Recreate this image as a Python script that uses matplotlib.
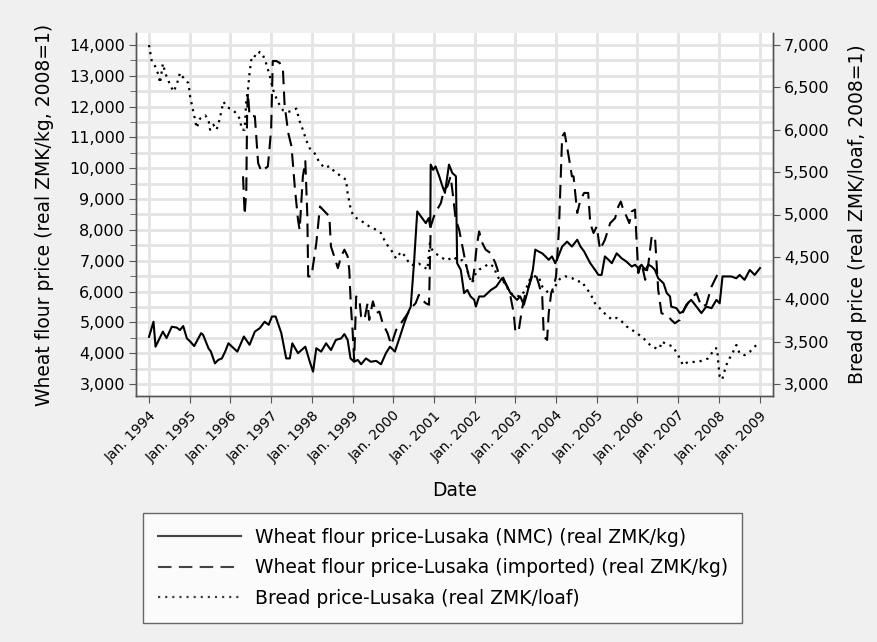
import numpy as np
import matplotlib.pyplot as plt
from matplotlib.ticker import MultipleLocator, FuncFormatter

plt.rcParams['font.family'] = ['DejaVu Sans']

# Wheat flour price-Lusaka (NMC), real ZMK/kg
nmc_year = [1994.00, 1994.11, 1994.16, 1994.34, 1994.43, 1994.56, 1994.68, 1994.76, 1994.84, 1994.93,
            1995.01, 1995.11, 1995.28, 1995.33, 1995.46, 1995.52, 1995.62, 1995.70, 1995.79, 1995.87,
            1995.95, 1996.17, 1996.33, 1996.47, 1996.60, 1996.72, 1996.84, 1996.94, 1997.02, 1997.11,
            1997.25, 1997.37, 1997.46, 1997.52, 1997.66, 1997.84, 1997.95, 1998.03, 1998.11, 1998.23,
            1998.35, 1998.47, 1998.59, 1998.72, 1998.80, 1998.88, 1998.95, 1999.04, 1999.13, 1999.21,
            1999.33, 1999.45, 1999.58, 1999.70, 1999.82, 1999.92, 2000.04, 2000.15, 2000.27, 2000.36,
            2000.43, 2000.51, 2000.59, 2000.71, 2000.80, 2000.87, 2000.91, 2000.92, 2000.98, 2001.04,
            2001.13, 2001.21, 2001.27, 2001.33, 2001.37, 2001.45, 2001.54, 2001.57, 2001.66, 2001.74,
            2001.82, 2001.90, 2001.99, 2002.03, 2002.11, 2002.23, 2002.40, 2002.53, 2002.67, 2002.80,
            2002.88, 2002.96, 2003.04, 2003.12, 2003.21, 2003.29, 2003.37, 2003.43, 2003.49, 2003.57,
            2003.66, 2003.74, 2003.82, 2003.90, 2003.98, 2004.07, 2004.15, 2004.27, 2004.39, 2004.52,
            2004.60, 2004.69, 2004.84, 2004.96, 2005.04, 2005.12, 2005.20, 2005.29, 2005.37, 2005.49,
            2005.61, 2005.73, 2005.86, 2005.94, 2006.02, 2006.10, 2006.19, 2006.27, 2006.35, 2006.43,
            2006.51, 2006.64, 2006.72, 2006.80, 2006.83, 2006.96, 2007.04, 2007.12, 2007.20, 2007.32,
            2007.45, 2007.57, 2007.69, 2007.82, 2007.94, 2008.02, 2008.09, 2008.18, 2008.30, 2008.43,
            2008.51, 2008.63, 2008.76, 2008.88, 2009.01]
nmc_price = [4530, 5020, 4210, 4700, 4490, 4860, 4830, 4750, 4880, 4480,
             4380, 4230, 4650, 4590, 4160, 4050, 3670, 3780, 3830, 4050,
             4320, 4050, 4540, 4270, 4700, 4810, 5020, 4920, 5190, 5190,
             4650, 3830, 3830, 4320, 4000, 4210, 3720, 3400, 4160, 4050,
             4320, 4100, 4430, 4480, 4620, 4430, 3830, 3720, 3780, 3640,
             3830, 3720, 3750, 3640, 4000, 4210, 4050, 4480, 4970, 5300,
             5510, 6920, 8600, 8380, 8220, 8380, 8100, 10120, 9950, 10060,
             9740, 9410, 9200, 9740, 10120, 9850, 9740, 6920, 6700, 5950,
             6050, 5840, 5730, 5510, 5840, 5840, 6050, 6160, 6430, 6160,
             5950, 5840, 5730, 5840, 5570, 5950, 6380, 6700, 7360, 7300,
             7240, 7140, 7030, 7140, 6920, 7190, 7460, 7620, 7460, 7680,
             7460, 7300, 6920, 6700, 6540, 6540, 7140, 7030, 6920, 7240,
             7080, 6970, 6810, 6870, 6760, 6870, 6700, 6870, 6810, 6700,
             6430, 6270, 5950, 5840, 5510, 5460, 5300, 5350, 5570, 5730,
             5510, 5300, 5510, 5460, 5730, 5620, 6490, 6490, 6490, 6430,
             6540, 6380, 6700, 6540, 6760]

# Wheat flour price-Lusaka (imported), real ZMK/kg
imp_year = [1996.31, 1996.35, 1996.39, 1996.41, 1996.43, 1996.47, 1996.60, 1996.68, 1996.76, 1996.92,
            1997.00, 1997.04, 1997.13, 1997.21, 1997.29, 1997.33, 1997.42, 1997.50, 1997.58, 1997.66,
            1997.70, 1997.78, 1997.84, 1997.89, 1997.91, 1997.99, 1998.11, 1998.20, 1998.27, 1998.43,
            1998.47, 1998.55, 1998.64, 1998.72, 1998.80, 1998.88, 1998.92, 1998.96, 1999.00, 1999.04,
            1999.09, 1999.17, 1999.21, 1999.29, 1999.37, 1999.41, 1999.50, 1999.58, 1999.66, 1999.74,
            1999.86, 1999.95, 2000.07, 2000.19, 2000.36, 2000.47, 2000.55, 2000.63, 2000.71, 2000.80,
            2000.88, 2000.92, 2001.00, 2001.08, 2001.17, 2001.25, 2001.33, 2001.41, 2001.49, 2001.53,
            2001.62, 2001.70, 2001.78, 2001.86, 2001.94, 2001.99, 2002.05, 2002.11, 2002.19, 2002.27,
            2002.40, 2002.51, 2002.59, 2002.67, 2002.80, 2002.88, 2002.96, 2003.00, 2003.08, 2003.16,
            2003.25, 2003.33, 2003.41, 2003.49, 2003.57, 2003.66, 2003.70, 2003.78, 2003.82, 2003.88,
            2003.94, 2004.00, 2004.07, 2004.15, 2004.21, 2004.31, 2004.39, 2004.43, 2004.52, 2004.60,
            2004.69, 2004.79, 2004.84, 2004.92, 2005.00, 2005.08, 2005.20, 2005.33, 2005.45, 2005.53,
            2005.59, 2005.65, 2005.73, 2005.80, 2005.86, 2005.94, 2006.02, 2006.10, 2006.19, 2006.27,
            2006.35, 2006.43, 2006.51, 2006.59, 2006.68, 2006.76, 2006.83, 2006.92, 2007.04, 2007.12,
            2007.24, 2007.37, 2007.45, 2007.57, 2007.69, 2007.82, 2007.96]
imp_price = [9740, 8490, 9310, 11800, 12450, 11690, 11690, 10170, 9900, 10060,
             11250, 13480, 13480, 13420, 13200, 12070, 11150, 10710, 9410, 8330,
             8000, 9740, 10230, 8440, 6490, 6490, 7570, 8760, 8660, 8440,
             7460, 7140, 6760, 7140, 7360, 7140, 6700, 5510, 4750, 3780,
             5840, 5730, 5190, 5080, 5620, 5080, 5680, 5300, 5350, 4970,
             4650, 4270, 4750, 4970, 5300, 5510, 5620, 5890, 5730, 5620,
             5570, 8110, 8440, 8660, 8870, 9310, 9410, 9740, 8870, 8380,
             8000, 7460, 6920, 6490, 6270, 6700, 7460, 7950, 7570, 7360,
             7240, 6920, 6600, 6540, 6160, 5840, 5300, 4700, 4700, 5410,
             5950, 6160, 6490, 6600, 6270, 5840, 4540, 4430, 5300, 5950,
             6160, 6490, 8000, 11040, 11150, 10390, 9740, 9740, 8550, 8980,
             9200, 9200, 8220, 7900, 8110, 7360, 7680, 8220, 8380, 8760,
             8920, 8660, 8440, 8220, 8600, 8660, 6600, 6920, 6380, 6920,
             7790, 7790, 6050, 5300, 5240, 5190, 5080, 4970, 5080, 5350,
             5620, 5840, 5950, 5510, 5570, 6160, 6540]

# Bread price-Lusaka, real ZMK/loaf (right axis)
bread_year = [1994.00, 1994.07, 1994.15, 1994.23, 1994.27, 1994.34, 1994.39, 1994.43, 1994.52, 1994.60,
              1994.68, 1994.76, 1994.88, 1994.97, 1995.01, 1995.09, 1995.13, 1995.17, 1995.25, 1995.38,
              1995.46, 1995.50, 1995.58, 1995.66, 1995.74, 1995.78, 1995.83, 1995.91, 1995.99, 1996.11,
              1996.23, 1996.28, 1996.35, 1996.39, 1996.43, 1996.47, 1996.51, 1996.56, 1996.64, 1996.72,
              1996.80, 1996.88, 1996.97, 1997.05, 1997.13, 1997.21, 1997.29, 1997.42, 1997.54, 1997.62,
              1997.70, 1997.78, 1997.86, 1997.95, 1998.07, 1998.18, 1998.31, 1998.43, 1998.55, 1998.72,
              1998.84, 1998.88, 1998.96, 1999.04, 1999.17, 1999.29, 1999.41, 1999.58, 1999.70, 1999.82,
              1999.95, 2000.07, 2000.19, 2000.31, 2000.39, 2000.51, 2000.63, 2000.76, 2000.84, 2000.90,
              2000.96, 2001.04, 2001.17, 2001.29, 2001.41, 2001.49, 2001.57, 2001.70, 2001.78, 2001.86,
              2001.94, 2002.03, 2002.11, 2002.23, 2002.35, 2002.48, 2002.55, 2002.63, 2002.75, 2002.88,
              2003.00, 2003.12, 2003.25, 2003.37, 2003.45, 2003.57, 2003.66, 2003.78, 2003.90, 2004.02,
              2004.11, 2004.23, 2004.39, 2004.52, 2004.64, 2004.71, 2004.84, 2004.96, 2005.08, 2005.20,
              2005.37, 2005.49, 2005.61, 2005.73, 2005.86, 2005.98, 2006.10, 2006.23, 2006.35, 2006.47,
              2006.55, 2006.59, 2006.68, 2006.78, 2006.87, 2007.00, 2007.12, 2007.24, 2007.37, 2007.49,
              2007.61, 2007.73, 2007.82, 2007.90, 2007.96, 2007.98, 2008.02, 2008.08, 2008.18, 2008.26,
              2008.35, 2008.43, 2008.51, 2008.63, 2008.76, 2008.92]
bread_price = [7000, 6800, 6750, 6650, 6550, 6780, 6690, 6630, 6530, 6450,
               6530, 6670, 6590, 6550, 6390, 6210, 6120, 6020, 6130, 6170,
               6120, 6000, 6060, 6000, 6130, 6230, 6330, 6270, 6250, 6210,
               6130, 6000, 6000, 6350, 6470, 6670, 6820, 6880, 6860, 6920,
               6880, 6780, 6630, 6470, 6370, 6290, 6230, 6210, 6230, 6250,
               6100, 6000, 5880, 5780, 5720, 5620, 5550, 5570, 5510, 5450,
               5410, 5250, 5050, 4970, 4940, 4900, 4860, 4820, 4780, 4660,
               4580, 4480, 4560, 4500, 4420, 4400, 4420, 4380, 4350, 4660,
               4580, 4540, 4500, 4460, 4480, 4500, 4460, 4460, 4420, 4270,
               4190, 4310, 4350, 4380, 4420, 4380, 4270, 4230, 4190, 4070,
               4050, 4030, 4110, 4250, 4270, 4270, 4150, 4090, 4070, 4190,
               4250, 4270, 4250, 4210, 4210, 4150, 4070, 3950, 3890, 3830,
               3760, 3780, 3740, 3680, 3640, 3600, 3560, 3500, 3440, 3420,
               3420, 3500, 3480, 3460, 3440, 3340, 3220, 3260, 3260, 3260,
               3280, 3300, 3360, 3420, 3420, 3280, 3090, 3050, 3220, 3300,
               3380, 3460, 3360, 3340, 3380, 3460]

year_ticks = list(range(1994, 2010))
legend_labels = ['Wheat flour price-Lusaka (NMC) (real ZMK/kg)',
                 'Wheat flour price-Lusaka (imported) (real ZMK/kg)',
                 'Bread price-Lusaka (real ZMK/loaf)']

bg = '#f0f0f0'
W, H = 877, 642
fig = plt.figure(figsize=(W / 100, H / 100), dpi=100, facecolor=bg)
ax = fig.add_axes([136 / W, 1 - 396 / H, (773 - 136) / W, (396 - 33) / H])
ax.set_facecolor('white')
ax2 = ax.twinx()

l1, = ax.plot(nmc_year, nmc_price, color='black', lw=1.5, zorder=3)
l2, = ax.plot(imp_year, imp_price, color='black', lw=1.5, linestyle=(0, (6.5, 3.5)), zorder=3)
l3, = ax2.plot(bread_year, bread_price, color='black', lw=1.6, linestyle=(0, (1, 2.2)), zorder=3)

ax.set_xlim(1993.68, 2009.33)
ax.set_ylim(2610, 14390)
ax2.set_ylim(2858, 7142)

fmt = FuncFormatter(lambda v, p: f'{v:,.0f}')
ax.yaxis.set_major_locator(MultipleLocator(1000))
ax.yaxis.set_minor_locator(MultipleLocator(500))
ax.yaxis.set_major_formatter(fmt)
ax2.yaxis.set_major_locator(MultipleLocator(500))
ax2.yaxis.set_major_formatter(fmt)

ax.set_xticks(year_ticks)
ax.set_xticklabels([f'Jan. {y}' for y in year_ticks], rotation=45, ha='right',
                   rotation_mode='anchor')

ax.grid(True, which='both', axis='y', color='#e4e4e4', lw=2, zorder=0)
ax.grid(True, which='major', axis='x', color='#e4e4e4', lw=2, zorder=0)
ax.set_axisbelow(True)

for a in (ax, ax2):
    for s in a.spines.values():
        s.set_color('#555555')
        s.set_linewidth(1.0)
    a.spines['top'].set_visible(False)
    a.tick_params(which='both', direction='out', color='#555555', labelsize=11.5, pad=3)
    a.tick_params(which='major', length=5)
    a.tick_params(which='minor', length=4)
ax.tick_params(axis='x', labelsize=10, pad=4)

ax.set_xlabel('Date', fontsize=13.5, labelpad=12)
ax.set_ylabel('Wheat flour price (real ZMK/kg, 2008=1)', fontsize=13.5, labelpad=11)
ax2.set_ylabel('Bread price (real ZMK/loaf, 2008=1)', fontsize=13.5, labelpad=13)

leg = fig.legend([l1, l2, l3], legend_labels, loc='upper left',
                 bbox_to_anchor=(143 / W, 1 - 513 / H, (742 - 143) / W, 0), mode='expand',
                 ncol=1, fontsize=13.5, frameon=True, fancybox=False, edgecolor='#444444',
                 handlelength=4.4, handletextpad=0.75, labelspacing=0.6,
                 borderpad=0.8, borderaxespad=0)
leg.get_frame().set_linewidth(1.0)
for h in leg.get_lines():
    h.set_color('#444444')

fig.savefig('out.png', dpi=100, facecolor=bg)
